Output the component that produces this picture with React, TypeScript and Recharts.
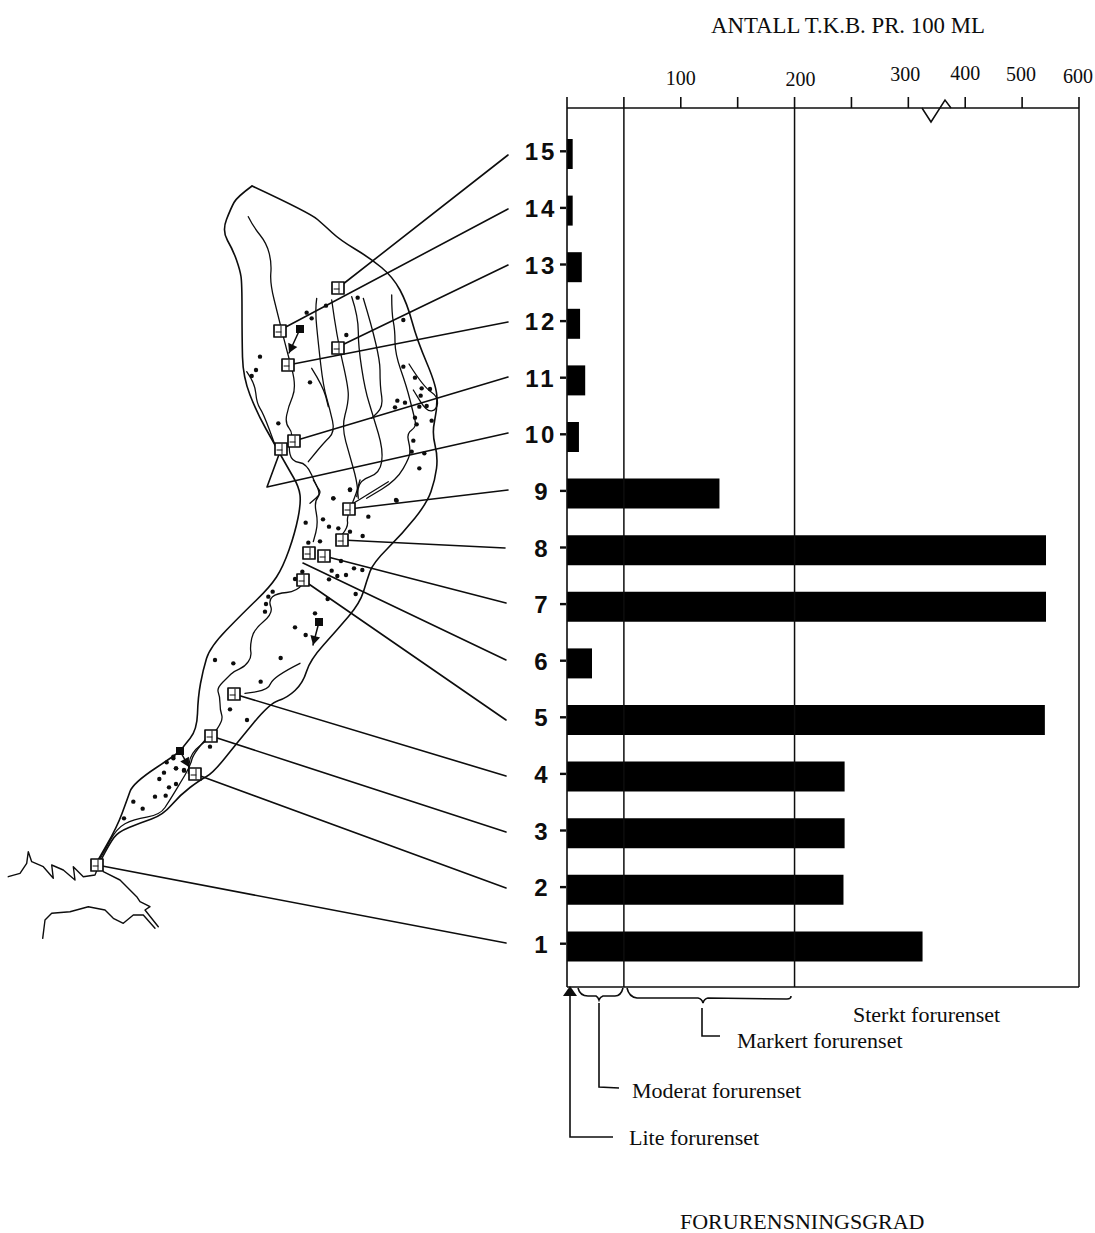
import React from "react";
import { BarChart, Bar, XAxis, YAxis, ReferenceLine, Customized } from "recharts";

// ---- chart data ----
const stations = ["15","14","13","12","11","10","9","8","7","6","5","4","3","2","1"];
const tkbValues = [5,5,13,11.5,16,10.5,134,542,542,22,540,244,244,243,325];
const tickLabels = ["","","100","","200","","300","400","500","600"];
const classLimits = [50,200];

// broken axis: 50 per step up to 300, then 100 per step
const toAxis = (v: number) => (v <= 300 ? v / 50 : 6 + (v - 300) / 100);
const rows = stations.map((station, i) => ({ station, value: tkbValues[i], pos: toAxis(tkbValues[i]) }));

const labelNudge: Record<string, [number, number]> = {
  "100": [0, 85], "200": [6, 86], "300": [-3, 81], "400": [0, 80], "500": [-1, 81], "600": [-1, 83],
};

type P = [number, number];
const crop = (x0: number, y0: number, pts: number[]): P[] => {
  const out: P[] = [];
  for (let i = 0; i < pts.length; i += 2) out.push([x0 + pts[i] / 3, y0 + pts[i + 1] / 3]);
  return out;
};
const A = (p: number[]) => crop(210, 170, p);
const B = (p: number[]) => crop(170, 480, p);
const C = (p: number[]) => crop(0, 730, p);

const outlineLeft: P[] = [
  [252,186],[237,197],[231,208],[222,231],[233,250],[240,270],[242,283],[242,337],[243,377],[257,413],[275,445],[288,468],[299,487],
  [301,503],[295,533],[283,567],[270,587],[243,613],[210,647],[203,670],[198,697],[197,730],[183,747],[180,752],
  [133,783],[127,800],[117,827],[97,862],
];
const outlineRight: P[] = [
  [252,186],[310,213],[325,226],[340,240],[370,258],[393,277],[407,303],[417,340],[437,387],[437,410],[432,433],[438,457],[435,480],
  [427,503],[403,533],[373,563],[367,580],[360,603],[337,630],[310,660],[303,683],[287,698],[270,703],[237,743],[213,773],
  [200,780],[180,795],[163,815],[140,823],[118,832],[110,843],[100,862],
];
const rivers: P[][] = [
  A([115,140,130,170,170,220,185,280,180,340,205,440,230,540,260,650,235,710,225,760,250,790,235,830,245,875,290,880,320,950,335,970,300,1000]),
  A([320,385,315,420,325,520,340,650,360,720,375,785,340,820,295,875]),
  A([305,595,340,650,355,710]),
  A([365,390,380,500,415,650,415,700,395,770,420,860,440,930,445,985]),
  A([425,380,445,440,445,530,465,660,490,740,520,840,510,910,450,930,440,980]),
  A([460,385,510,550,510,650,520,710,485,745]),
  A([545,375,545,430,555,480,555,550,590,650,610,730,620,770,590,790,600,830,600,860,560,930,470,985]),
  A([597,582,640,650,685,680,680,720,650,725,610,660]),
  A([110,605,135,640,140,700,160,730,195,825]),
  B([430,0,455,40,432,65,445,130,430,185]),
  B([570,0,560,40,530,110,535,140,500,185]),
  B([655,5,590,45,550,70]),
  B([400,310,380,335,320,340,295,360,310,400,250,450,240,500,245,530,225,560,190,575,175,590,140,625,150,650,150,690,160,720,125,770,60,820,55,880]),
  B([390,550,310,590,295,630,225,640]),
  C([620,25,580,70,570,110,540,160,510,210,480,255,400,268,350,295,310,370,295,395]),
];
const coasts: P[][] = [
  C([25,440,60,430,80,400,85,365,95,395,130,410,160,445,155,405,190,420,225,450,220,410,250,440,285,435,295,410]),
  C([310,425,360,450,410,500,420,515,450,530,435,540,475,590]),
  C([128,625,135,570,155,550,210,545,265,530,315,540,340,565,370,580,400,555,430,555,465,595]),
];
const dots: P[] = [
  ...A([290,428,305,445,348,407,443,383,409,495,580,450,150,560,138,600,125,618,300,637,580,590,615,623,635,655,660,657,632,677,562,692,585,698,555,712,628,710,650,708,615,743,620,763,665,752,205,760,610,812,605,845,643,850,628,895,420,958,370,985,558,990]),
  ...B([540,30,490,55,680,62,595,110,407,128,459,118,477,140,505,145,540,155,578,168,415,188,450,184,513,243,552,265,577,270,485,272,397,275,375,297,502,288,528,285,477,298,557,342,473,357,308,335,295,350,288,372,285,395,435,400,375,442,407,465,135,540,190,550,332,534,272,605,180,688,231,720,120,800,10,830,18,865,42,870]),
  ...C([500,97,520,85,528,115,552,122,492,128,478,147,507,172,528,162,465,200,497,197,400,215,428,236,372,265]),
];
const stationBoxes: P[] = [
  [338,288],[280,331],[338,348],[288,365],[294,441],[281,449],[349,509],[342,540],[324,556],[309,553],[303,580],[234,694],[211,736],[195,774],[97,865],
];
const leaders: P[][] = [
  [[338,288],[508,155]],
  [[282,329],[508,209]],
  [[340,346],[508,265]],
  [[288,365],[508,322]],
  [[294,441],[508,377]],
  [[281,449],[267,487],[508,433]],
  [[349,509],[508,490]],
  [[342,540],[505,548]],
  [[324,556],[506,603]],
  [[303,563],[506,660]],
  [[303,580],[506,720]],
  [[234,694],[506,776]],
  [[211,736],[506,832]],
  [[195,774],[506,888]],
  [[97,865],[506,943]],
];
const arrows: [P, P][] = [
  [[300,329],[289,353]],
  [[319,622],[313,645]],
  [[180,751],[189,767]],
];
const scaleLines: string[] = [
  "M578 988 Q580 996 588 996 L596 996 Q598 997 599 1000 Q600 997 603 996 L615 996 Q621 996 623 988",
  "M627 988 Q629 997 637 998 L698 998 Q702 999 703 1003 Q704 999 708 998 L787 999 Q791 999 791 996",
  "M599 1003 L599 1087 L619 1088",
  "M702 1008 L702 1036 L720 1036",
  "M570 992 L570 1137 L613 1137",
];
const captions: [string, number, number][] = [
  ["ANTALL T.K.B. PR. 100 ML", 711, 33],
  ["Sterkt forurenset", 853, 1022],
  ["Markert forurenset", 737, 1048],
  ["Moderat forurenset", 632, 1098],
  ["Lite forurenset", 629, 1145],
  ["FORURENSNINGSGRAD", 680, 1229],
];

const INK = "#0d0d0d";
const poly = (p: P[]) => p.map(([x, y]) => `${x.toFixed(1)},${y.toFixed(1)}`).join(" ");
const smooth = (p: P[]) => {
  let d = `M${p[0][0].toFixed(1)} ${p[0][1].toFixed(1)}`;
  for (let i = 1; i < p.length - 1; i++) {
    const mx = (p[i][0] + p[i + 1][0]) / 2, my = (p[i][1] + p[i + 1][1]) / 2;
    d += ` Q${p[i][0].toFixed(1)} ${p[i][1].toFixed(1)} ${mx.toFixed(1)} ${my.toFixed(1)}`;
  }
  const e = p[p.length - 1];
  return d + ` L${e[0].toFixed(1)} ${e[1].toFixed(1)}`;
};

const MapLayer = () => (
  <g fill="none" stroke={INK} strokeLinejoin="round" strokeLinecap="round">
    <path d={smooth(outlineLeft)} strokeWidth={1.6} />
    <path d={smooth(outlineRight)} strokeWidth={1.6} />
    {rivers.map((r, i) => <path key={i} d={smooth(r)} strokeWidth={1.3} />)}
    {coasts.map((r, i) => <polyline key={i} points={poly(r)} strokeWidth={1.4} />)}
    {leaders.map((l, i) => <polyline key={i} points={poly(l)} strokeWidth={1.6} />)}
    {dots.map(([x, y], i) => <circle key={i} cx={x} cy={y} r={2.2} fill={INK} stroke="none" />)}
    {stationBoxes.map(([x, y], i) => (
      <g key={i}>
        <rect x={x - 6} y={y - 6} width={12} height={12} fill="#fff" strokeWidth={1.7} />
        <path d={`M${x + 1} ${y - 5}V${y + 5}M${x - 4} ${y + 1}H${x + 1}`} strokeWidth={1} />
      </g>
    ))}
    {arrows.map(([a, b], i) => {
      const dx = b[0] - a[0], dy = b[1] - a[1], L = Math.hypot(dx, dy), ux = dx / L, uy = dy / L;
      return (
        <g key={i}>
          <rect x={a[0] - 4} y={a[1] - 4} width={8} height={8} fill={INK} stroke="none" />
          <line x1={a[0]} y1={a[1]} x2={b[0]} y2={b[1]} strokeWidth={1.5} />
          <polygon points={`${b[0]},${b[1]} ${b[0] - ux * 9 - uy * 5},${b[1] - uy * 9 + ux * 5} ${b[0] - ux * 9 + uy * 5},${b[1] - uy * 9 - ux * 5}`} fill={INK} stroke="none" />
        </g>
      );
    })}
  </g>
);

const Annotations = () => (
  <g>
    {/* axis break */}
    <line x1={924} y1={108} x2={950} y2={108} stroke="#fff" strokeWidth={4} />
    <polyline points="922,108 931,122 945,100 951,108" fill="none" stroke={INK} strokeWidth={1.5} />
    <g fill="none" stroke={INK} strokeWidth={1.6}>
      {scaleLines.map((d, i) => <path key={i} d={d} />)}
    </g>
    <polygon points="563,996 570,986 577,996" fill={INK} />
    {captions.map(([t, x, y], i) => (
      <text key={i} x={x} y={y} fontFamily="'Liberation Serif', serif" fontSize={i === 0 ? 22.8 : 22} fill={INK}>{t}</text>
    ))}
  </g>
);

const XTick = (props: any) => {
  const label = tickLabels[props.payload.value];
  if (!label) return <g />;
  const [dx, y] = labelNudge[label];
  return (
    <text x={props.x + dx} y={y} textAnchor="middle" fontFamily="'Liberation Serif', serif" fontSize={20} fill={INK}>{label}</text>
  );
};

const YTick = (props: any) => (
  <g>
    <text x={541} y={props.y + 6} textAnchor="middle" fontFamily="'Liberation Sans', Arial, sans-serif" fontWeight={700} fontSize={24} letterSpacing={props.payload.value.length > 1 ? 3 : 0} fill={INK}>
      {props.payload.value}
    </text>
    <line x1={560} x2={566} y1={props.y - 3} y2={props.y - 3} stroke={INK} strokeWidth={2.4} />
  </g>
);

export default function App() {
  return (
    <div style={{ position: "absolute", left: 0, top: 0, width: 1095, height: 1233, background: "#fff", overflow: "hidden" }}>
      <BarChart width={1095} height={1233} data={rows} layout="vertical" margin={{ top: 0, right: 16, bottom: 0, left: 0 }} barCategoryGap={0}>
        <XAxis xAxisId="top" type="number" orientation="top" height={108} domain={[0, 9]} ticks={[0,1,2,3,4,5,6,7,8,9]} interval={0}
          tickSize={11} tick={<XTick />} axisLine={{ stroke: INK, strokeWidth: 1.6 }} tickLine={{ stroke: INK, strokeWidth: 1.6 }} />
        <XAxis xAxisId="bottom" type="number" orientation="bottom" height={246} domain={[0, 9]} tick={false} tickLine={false} axisLine={{ stroke: INK, strokeWidth: 1.6 }} />
        <YAxis type="category" dataKey="station" width={567} padding={{ top: 18, bottom: 12 }} interval={0} tick={<YTick />} tickLine={false} axisLine={{ stroke: INK, strokeWidth: 1.6 }} />
        {classLimits.map((v) => (
          <ReferenceLine key={v} xAxisId="top" x={toAxis(v)} stroke={INK} strokeWidth={1.5} />
        ))}
        <ReferenceLine xAxisId="top" x={toAxis(600)} stroke={INK} strokeWidth={1.5} />
        <Bar xAxisId="top" dataKey="pos" fill="#000" barSize={30} isAnimationActive={false} />
        <Customized component={MapLayer} />
        <Customized component={Annotations} />
      </BarChart>
    </div>
  );
}
